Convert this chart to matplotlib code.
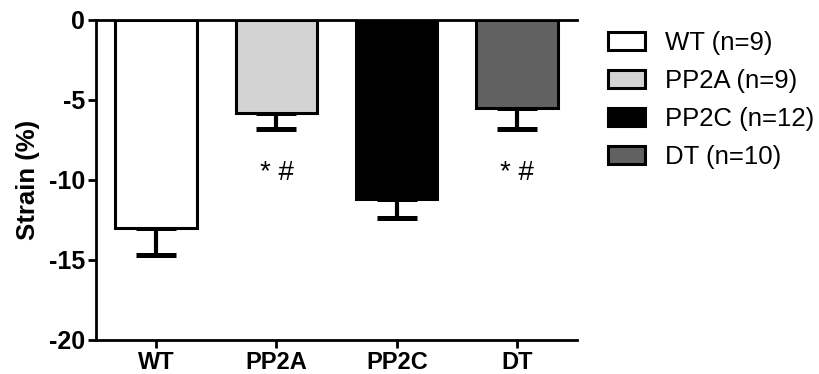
import matplotlib.pyplot as plt
import numpy as np

plt.rcParams['font.family'] = ['Liberation Sans', 'DejaVu Sans']
plt.rcParams['axes.unicode_minus'] = False

# group data (mean strain and SEM)
groups = ['WT', 'PP2A', 'PP2C', 'DT']
legend_labels = ['WT (n=9)', 'PP2A (n=9)', 'PP2C (n=12)', 'DT (n=10)']
strain = [-13.0, -5.8, -11.2, -5.5]
sem = [1.7, 1.0, 1.2, 1.35]
colors = ['white', '#d3d3d3', 'black', '#616161']
marks = ['', '* #', '', '* #']
mark_y = -9.6

fig = plt.figure(figsize=(8.2, 3.74), dpi=100)
ax = fig.add_axes([0.117, 0.091, 0.587, 0.856])

x = np.arange(len(groups))
bars = ax.bar(x, strain, width=0.675, color=colors, edgecolor='black',
              linewidth=2.2, label=legend_labels, zorder=2)
# only the lower half of the error bar is shown
ax.errorbar(x, strain, yerr=[sem, [0] * len(sem)], fmt='none', ecolor='black',
            elinewidth=3, capsize=14.5, capthick=3.6, zorder=1)

for xi, m in zip(x, marks):
    if m:
        ax.text(xi, mark_y, m, ha='center', va='center', fontsize=20)

ax.axhline(0, color='black', linewidth=2, zorder=3, clip_on=False)

ax.set_xlim(-0.5, 3.5)
ax.set_ylim(-20, 0)
ax.set_yticks([0, -5, -10, -15, -20])
ax.set_xticks(x)
ax.set_xticklabels(groups, fontsize=17, fontweight='bold')
for lbl in ax.get_yticklabels():
    lbl.set_fontsize(18)
    lbl.set_fontweight('bold')
ax.set_ylabel('Strain (%)', fontsize=18.5, fontweight='bold', labelpad=6)

ax.spines['top'].set_visible(False)
ax.spines['right'].set_visible(False)
ax.spines['left'].set_linewidth(2)
ax.spines['bottom'].set_linewidth(2)
ax.tick_params(axis='both', width=2, length=6, pad=2)

fig.legend(handles=bars.patches, labels=legend_labels, loc='upper left',
           bbox_to_anchor=(0.742, 0.918), frameon=False, fontsize=18.5,
           handlelength=1.42, handleheight=0.7, handletextpad=0.8,
           labelspacing=0.55, borderpad=0, borderaxespad=0)

fig.savefig('out.png', dpi=100)
